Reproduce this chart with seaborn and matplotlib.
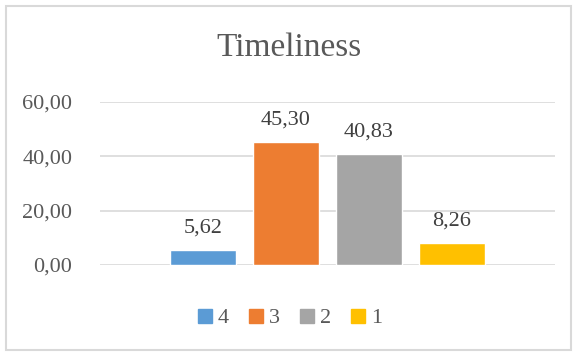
import matplotlib
matplotlib.use("Agg")
import matplotlib.pyplot as plt
import seaborn as sns
import pandas as pd
from matplotlib.patches import Rectangle
from matplotlib.lines import Line2D

categories = ["4", "3", "2", "1"]
values = [5.62, 45.30, 40.83, 8.26]
colors = ["#5B9BD5", "#ED7D31", "#A5A5A5", "#FFC000"]
yticks = [0, 20, 40, 60]
title = "Timeliness"

sns.set_theme(style="white")
plt.rcParams['font.family'] = ['Liberation Serif', 'DejaVu Serif']

df = pd.DataFrame({"cat": categories, "val": values})

fig = plt.figure(figsize=(5.78, 3.52), dpi=100)
ax = fig.add_axes([100/578, 1-265/352, 455/578, 163/352])

sns.barplot(data=df, x="cat", y="val", hue="cat", order=categories, hue_order=categories,
            palette=colors, dodge=False, width=0.79, legend=False, ax=ax, saturation=1)

ax.set_ylim(0, 60)
ax.set_xlim(-1.24, 4.24)
ax.set_yticks(yticks)
ax.set_yticklabels([f"{v:.2f}".replace(".", ",") for v in yticks], color="#595959", fontsize=16)
ax.set_xticks([])
ax.set_xlabel("")
ax.set_ylabel("")
ax.tick_params(axis="y", length=0, pad=20)
for y in yticks:
    ax.axhline(y, color="#D9D9D9", lw=1.2, zorder=0)
for s in ax.spines.values():
    s.set_visible(False)

for cont in ax.containers:
    ax.bar_label(cont, labels=[f"{v:.2f}".replace(".", ",") for v in cont.datavalues],
                 padding=9, fontsize=16, color="#404040")

fig.text(0.5, 1-48/352, title, ha="center", va="center", fontsize=24, color="#595959")

handles = [Line2D([0], [0], marker="s", linestyle="", markersize=10, markerfacecolor=c,
                  markeredgecolor=c) for c in colors]
fig.legend(handles, categories, loc="center", bbox_to_anchor=(0.5, 1-318/352), ncol=4,
           frameon=False, fontsize=16, handlelength=0.8, handletextpad=0.2, columnspacing=0.8,
           labelcolor="#595959")

fig.patches.append(Rectangle((6/578, 2/352), 565/578, 344/352, transform=fig.transFigure,
                             fill=False, edgecolor="#D9D9D9", lw=1.5))

fig.savefig("out.png", dpi=100)
